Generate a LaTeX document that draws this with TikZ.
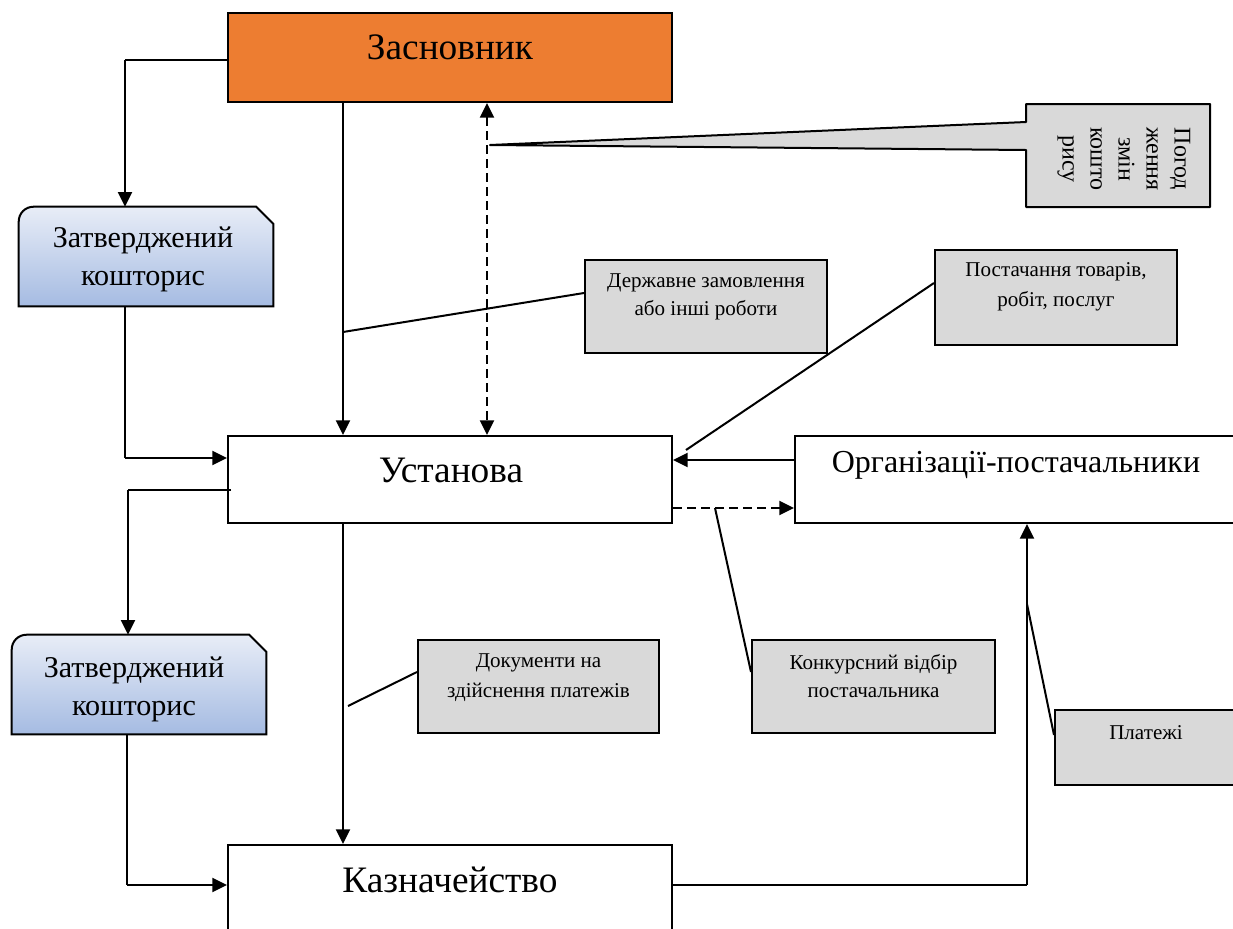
\documentclass[tikz,border=0pt]{standalone}
\usepackage{fontspec}
\setmainfont{Liberation Serif}
\usepackage{xcolor}
\usetikzlibrary{arrows.meta,calc}
\definecolor{zasorange}{HTML}{ED7D31}
\definecolor{notegray}{HTML}{D9D9D9}
\definecolor{kostop}{HTML}{E8EDF7}
\definecolor{kosbot}{HTML}{A5BBE2}
\tikzset{
  mainbox/.style={draw,line width=1.5pt,fill=white,minimum width=333pt,minimum height=65.25pt,inner sep=0pt},
  notebox/.style={draw,line width=1.5pt,fill=notegray,inner sep=0pt,minimum height=69.75pt},
  kosbox/.style={minimum width=190.5pt,minimum height=74.25pt,inner sep=0pt,align=center,font=\fontsize{22.6}{28.5}\selectfont},
  bigtxt/.style={font=\fontsize{28}{32}\selectfont},
  smalltxt/.style={align=center,font=\fontsize{15.8}{21.5}\selectfont},
  tip/.tip={Triangle[length=11pt,width=10.5pt]},
  arr/.style={line width=1.6pt,-tip},
  thinln/.style={line width=0.9pt},
  ptr/.style={line width=1.5pt},
  dashln/.style={line width=1.5pt,dash pattern=on 6.5pt off 4pt}
}
\begin{document}
\begin{tikzpicture}[x=0.75pt,y=-0.75pt]
\useasboundingbox (0,0) rectangle (1233,929);
\clip (0,0) rectangle (1233,929);

\node[mainbox,fill=zasorange,minimum height=66.75pt] (zas) at (450,57.5) {};
\node[mainbox] (ust) at (450,479.5) {};
\node[mainbox] (kaz) at (450,888.5) {};
\node[mainbox,minimum width=341.25pt] (org) at (1022.5,479.5) {};
\node[bigtxt] (zasT) at (450,47) {Засновник};
\node[bigtxt] (ustT) at (451,470) {Установа};
\node[bigtxt] (kazT) at (450,880) {Казначейство};
\node[font=\fontsize{24}{28}\selectfont] (orgT) at (1016,465) {Організації-постачальники};

\node[kosbox] (kos1) at (146,256.5) {};
\node[kosbox] (kos2) at (139,684.5) {};
\foreach \k in {kos1,kos2}
  \draw[line width=1.5pt,top color=kostop,bottom color=kosbot] (\k.south west) [rounded corners=11pt] -- (\k.north west) [sharp corners] -- ($(\k.north east)+(-17,0)$) -- ($(\k.north east)+(0,17)$) -- (\k.south east) -- cycle;
\node[kosbox] (kos1T) at (143,259) {Затверджений\\кошторис};
\node[kosbox] (kos2T) at (134,689) {Затверджений\\кошторис};

\node[notebox,minimum width=181.5pt] (derzh) at (706,306.5) {};
\node[notebox,minimum width=181.5pt,minimum height=71.25pt] (post) at (1056,297.5) {};
\node[notebox,minimum width=180.75pt] (dok) at (538.5,686.5) {};
\node[notebox,minimum width=182.25pt] (konk) at (873.5,686.5) {};
\node[notebox,minimum width=146.25pt,minimum height=56.25pt] (plat) at (1152.5,747.5) {};
\node[smalltxt] (derzhT) at (706,297) {Державне замовлення\\або інші роботи};
\node[smalltxt,font=\fontsize{15.8}{22.5}\selectfont] (postT) at (1056,287) {Постачання товарів,\\робіт, послуг};
\node[smalltxt,font=\fontsize{15.8}{22.5}\selectfont] (dokT) at (538.5,678) {Документи на\\здійснення платежів};
\node[smalltxt] (konkT) at (873.5,676) {Конкурсний відбір\\постачальника};
\node[smalltxt] (platT) at (1146,733) {Платежі};

\coordinate (pogtip) at (490,145);
\draw[line width=1.5pt,line join=round,fill=notegray] (pogtip) -- (1026,122) -- (1026,104) -- (1210,104) -- (1210,207) -- (1026,207) -- (1026,150) -- cycle;
\node[rotate=-90,align=center,font=\fontsize{18}{21}\selectfont] (pogT) at (1124,159) {Погод\\ження\\змін\\кошто\\рису};

\coordinate (c1) at (125,60);
\coordinate (c2) at (125,458);
\coordinate (c3) at (128,490);
\coordinate (c4) at (127,885);
\coordinate (c5) at (1027,885);
\draw[thinln] ($(zas.west)+(0,2.5)$) -- (c1);
\draw[arr] (c1) -- ($(kos1.north)+(-21,0)$);
\draw[thinln] ($(kos1.south)+(-21,0)$) -- (c2);
\draw[arr] (c2) -- ($(ust.west)+(0,-21.5)$);
\draw[thinln] ($(ust.west)+(4,10.5)$) -- (c3);
\draw[arr] (c3) -- ($(kos2.north)+(-11,0)$);
\draw[thinln] ($(kos2.south)+(-12,0)$) -- (c4);
\draw[arr] (c4) -- ($(kaz.west)+(0,-3.5)$);
\draw[thinln] ($(kaz.east)+(0,-3.5)$) -- (c5);
\draw[arr] (c5) -- ($(org.south)+(4.5,0)$);

\draw[arr] ($(zas.south)+(-107,0)$) -- ($(ust.north)+(-107,0)$);
\draw[dashln,tip-tip] ($(zas.south)+(37,0)$) -- ($(ust.north)+(37,0)$);
\draw[arr] ($(ust.south)+(-107,0)$) -- ($(kaz.north)+(-107,0)$);
\draw[arr] ($(org.west)+(0,-19.5)$) -- ($(ust.east)+(0,-19.5)$);
\draw[dashln,-tip] ($(ust.east)+(0,28.5)$) -- ($(org.west)+(0,28.5)$);

\coordinate (dA) at (343,332);
\coordinate (pA) at (686,450);
\coordinate (dkA) at (348,706);
\coordinate (kA) at (715,508);
\coordinate (plA) at (1027,604);
\draw[ptr] (dA) -- ($(derzh.west)+(0,-13.5)$);
\draw[ptr] (pA) -- ($(post.west)+(0,-14.5)$);
\draw[ptr] (dkA) -- ($(dok.west)+(0,-14.5)$);
\draw[ptr] (kA) -- ($(konk.west)+(0,-14.5)$);
\draw[ptr] (plA) -- ($(plat.west)+(0,-12.5)$);
\end{tikzpicture}
\end{document}
